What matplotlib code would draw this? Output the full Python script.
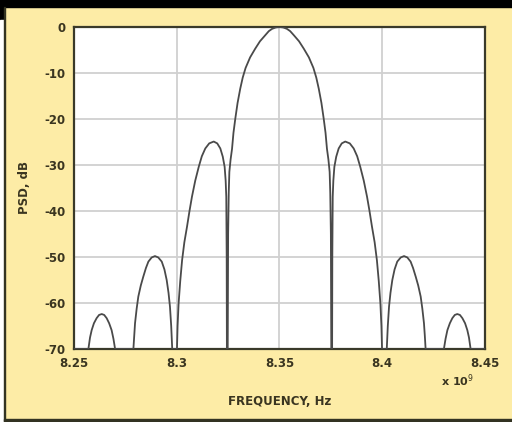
import matplotlib
matplotlib.use("Agg")
from matplotlib import pyplot as plt
from matplotlib.patches import Rectangle

# PSD, lobe by lobe (frequency in units of 1e9 Hz, level in dB)
lobe3_left_f = [8.2500, 8.2570, 8.2578, 8.2586, 8.2597, 8.2610, 8.2622, 8.2635,
                8.2647, 8.2659, 8.2671, 8.2683, 8.2692, 8.2700]
lobe3_left_db = [-70, -70, -67.5, -65.9, -64.4, -63.3, -62.6, -62.4,
                 -62.6, -63.3, -64.4, -65.9, -67.8, -70]

lobe2_left_f = [8.2789, 8.2793, 8.2797, 8.2805, 8.2813, 8.2825, 8.2837, 8.2850, 8.2862,
                8.2878, 8.2894, 8.2910, 8.2927, 8.2940, 8.2951, 8.2960, 8.2967, 8.2973, 8.2978]
lobe2_left_db = [-70, -67.0, -64.4, -61.2, -58.6, -56.2, -54.3, -52.4, -51.0,
                 -50.1, -49.8, -50.1, -51.0, -52.7, -55.0, -57.8, -60.8, -65.0, -70]

lobe1_left_f = [8.3001, 8.3004, 8.3009, 8.3017, 8.3026, 8.3037, 8.3050, 8.3062, 8.3074,
                8.3090, 8.3107, 8.3122, 8.3139, 8.3158, 8.3180, 8.3197, 8.3212,
                8.3224, 8.3233, 8.3238, 8.3241, 8.3243, 8.3244]
lobe1_left_db = [-70, -65.0, -60.1, -55.2, -50.7, -46.8, -43.4, -40.0, -36.9,
                 -33.4, -30.4, -28.1, -26.4, -25.3, -24.9, -25.3, -26.4,
                 -28.2, -30.4, -33.4, -36.9, -50.0, -70]

main_f = [8.3248, 8.3250, 8.3253, 8.3256, 8.3262, 8.3269, 8.3276, 8.3285, 8.3296, 8.3309,
          8.3321, 8.3335, 8.3357, 8.3382, 8.3405, 8.3430, 8.3448, 8.3464, 8.3482,
          8.3500,
          8.3518, 8.3536, 8.3552, 8.3570, 8.3595, 8.3618, 8.3643, 8.3665, 8.3679,
          8.3691, 8.3704, 8.3715, 8.3724, 8.3731, 8.3738, 8.3744, 8.3747, 8.3750, 8.3752]
main_db = [-70, -45, -36.0, -31.5, -28.8, -26.5, -23.0, -19.9, -16.5, -13.4,
           -11.0, -8.9, -6.6, -4.7, -3.1, -1.8, -0.9, -0.4, -0.1,
           0,
           -0.1, -0.4, -0.9, -1.8, -3.1, -4.7, -6.6, -8.9, -11.0,
           -13.4, -16.5, -19.9, -23.0, -26.5, -28.8, -31.5, -36.0, -45, -70]

lobe1_right_f = [8.3756, 8.3757, 8.3759, 8.3762, 8.3767, 8.3776, 8.3788, 8.3803, 8.3820,
                 8.3842, 8.3861, 8.3878, 8.3893, 8.3910, 8.3926, 8.3938, 8.3950,
                 8.3963, 8.3974, 8.3983, 8.3991, 8.3996, 8.3999]
lobe1_right_db = [-70, -50.0, -36.9, -33.4, -30.4, -28.2, -26.4, -25.3, -24.9,
                  -25.3, -26.4, -28.1, -30.4, -33.4, -36.9, -40.0, -43.4,
                  -46.8, -50.7, -55.2, -60.1, -65.0, -70]

lobe2_right_f = [8.4022, 8.4027, 8.4033, 8.4040, 8.4049, 8.4060, 8.4073, 8.4090, 8.4106,
                 8.4122, 8.4138, 8.4150, 8.4163, 8.4175, 8.4187, 8.4195, 8.4203, 8.4207, 8.4211]
lobe2_right_db = [-70, -65.0, -60.8, -57.8, -55.0, -52.7, -51.0, -50.1, -49.8,
                  -50.1, -51.0, -52.4, -54.3, -56.2, -58.6, -61.2, -64.4, -67.0, -70]

lobe3_right_f = [8.4300, 8.4308, 8.4317, 8.4329, 8.4341, 8.4353, 8.4365, 8.4378,
                 8.4390, 8.4403, 8.4414, 8.4422, 8.4430, 8.4500]
lobe3_right_db = [-70, -67.8, -65.9, -64.4, -63.3, -62.6, -62.4, -62.6,
                  -63.3, -64.4, -65.9, -67.5, -70, -70]

x_ticks = [8.25, 8.3, 8.35, 8.4, 8.45]
x_tick_labels = ["8.25", "8.3", "8.35", "8.4", "8.45"]
y_ticks = [0, -10, -20, -30, -40, -50, -60, -70]

freq = (lobe3_left_f + lobe2_left_f + lobe1_left_f + main_f
        + lobe1_right_f + lobe2_right_f + lobe3_right_f)
psd = (lobe3_left_db + lobe2_left_db + lobe1_left_db + main_db
       + lobe1_right_db + lobe2_right_db + lobe3_right_db)

plt.rcParams["axes.unicode_minus"] = False
plt.rcParams["font.family"] = ["Liberation Sans Narrow", "DejaVu Sans"]

bg = "#fdeca6"
txt = "#3a3520"

fig = plt.figure(figsize=(5.12, 4.22), dpi=100, facecolor=bg)

# frame bits around the picture
fig.patches.append(Rectangle((0, 1 - 7 / 422), 1, 7 / 422, transform=fig.transFigure,
                             color="black", zorder=0))
fig.patches.append(Rectangle((0, 1 - 20 / 422), 4 / 512, 20 / 422, transform=fig.transFigure,
                             color="black", zorder=0))
fig.patches.append(Rectangle((0, 0), 4 / 512, 1 - 20 / 422, transform=fig.transFigure,
                             color="white", zorder=0))
fig.patches.append(Rectangle((4 / 512, 0), 1 / 512, 1 - 7 / 422, transform=fig.transFigure,
                             color="#333322", zorder=0))
fig.patches.append(Rectangle((4 / 512, 1.5 / 422), 1, 1.2 / 422, transform=fig.transFigure,
                             color="#333322", zorder=0))

ax = fig.add_axes([74 / 512, 73 / 422, 411 / 512, 322 / 422])
ax.set_facecolor("white")
ax.plot(freq, psd, color="#4a4a4a", linewidth=1.3, zorder=3)

ax.set_xlim(8.25, 8.45)
ax.set_ylim(-70, 0)
ax.set_xticks(x_ticks)
ax.set_xticklabels(x_tick_labels)
ax.set_yticks(y_ticks)
ax.grid(True, color="#d0d0d0", linewidth=1.3)
ax.set_axisbelow(True)
ax.tick_params(length=0, labelsize=8.5, labelcolor=txt, pad=6)
for lab in ax.get_xticklabels() + ax.get_yticklabels():
    lab.set_fontweight("bold")
for s in ax.spines.values():
    s.set_color("#3a3a2a")
    s.set_linewidth(1.6)

ax.set_xlabel("FREQUENCY, Hz", fontsize=8.5, color=txt, labelpad=18, fontweight="bold")
ax.set_ylabel("PSD, dB", fontsize=8.5, color=txt, labelpad=10, fontweight="bold")
fig.text(458 / 512, 1 - 381 / 422, "x 10$^{9}$", fontsize=8, color=txt,
         ha="center", va="center", fontweight="bold")

plt.savefig("out.png", dpi=100, facecolor=bg)
